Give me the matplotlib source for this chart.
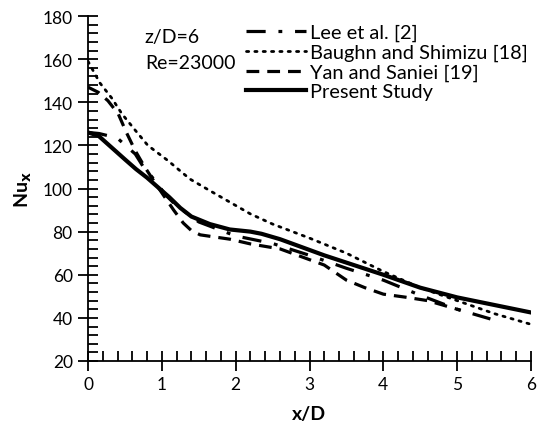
import matplotlib
matplotlib.use("Agg")
import matplotlib.pyplot as plt
from matplotlib.ticker import MultipleLocator

# values
lee_x = [0.0, 0.15, 0.27, 0.41, 0.54, 0.64, 0.75, 0.9, 1.05, 1.2, 1.5, 2.0, 2.5, 3.0, 3.5, 4.0, 4.5, 5.0, 5.45]
lee_y = [126, 125.5, 124.5, 123, 119, 116, 110, 104, 97, 92, 84.5, 78, 74.5, 69, 63, 57.5, 50.5, 44, 39.5]

baughn_x = [0.0, 0.16, 0.32, 0.46, 0.64, 0.81, 1.08, 1.38, 1.65, 1.92, 2.2, 2.5, 3.0, 3.5, 4.0, 4.5, 5.0, 5.5, 6.0]
baughn_y = [159, 149, 142, 134.6, 127, 120, 113, 104.4, 99, 93.7, 88.2, 83.5, 77, 70, 61.5, 54, 48, 42, 37]

yan_x = [0.0, 0.14, 0.27, 0.41, 0.52, 0.64, 0.75, 0.9, 1.02, 1.16, 1.29, 1.4, 1.52, 1.92, 2.2, 2.6, 3.0, 3.2, 3.5, 3.75, 4.0, 4.3, 4.6, 4.8, 5.05]
yan_y = [147, 144.6, 140.7, 134.6, 126, 117.5, 111, 103, 97, 90, 84, 80.5, 78.5, 76.5, 74.3, 72, 67, 64.5, 57.5, 54, 51, 49.6, 48, 46, 43.5]

present_x = [0.0, 0.14, 0.32, 0.5, 0.65, 0.8, 0.95, 1.1, 1.25, 1.4, 1.65, 1.92, 2.2, 2.35, 2.6, 3.0, 3.2, 3.6, 4.0, 4.5, 5.0, 5.5, 6.0]
present_y = [126, 124.5, 119, 113.5, 109, 105, 100.5, 96, 91, 87, 83.5, 81, 80, 79, 76.5, 71.5, 69, 64.5, 60, 54, 49.5, 46, 42.5]

plt.rcParams['font.family'] = ['Lato', 'DejaVu Sans']

fig = plt.figure(figsize=(5.39, 4.27), dpi=100)
ax = fig.add_axes([88 / 539, 65 / 427, 443 / 539, 345 / 427])

ax.plot(lee_x, lee_y, color='black', lw=2.3, dashes=(6, 4, 1.2, 4), label='Lee et al. [2]')
ax.plot(baughn_x, baughn_y, color='black', lw=2.0, dashes=(0.8, 2.2), dash_capstyle='round',
        label='Baughn and Shimizu [18]')
ax.plot(yan_x, yan_y, color='black', lw=2.3, dashes=(4, 2.5), label='Yan and Saniei [19]')
ax.plot(present_x, present_y, color='black', lw=3.0, label='Present Study')

ax.set_xlim(0, 6)
ax.set_ylim(20, 180)
ax.xaxis.set_major_locator(MultipleLocator(1))
ax.xaxis.set_minor_locator(MultipleLocator(0.2))
ax.yaxis.set_major_locator(MultipleLocator(20))
ax.yaxis.set_minor_locator(MultipleLocator(4))
ax.tick_params(which='major', direction='inout', length=14, width=1.3, labelsize=12.5, pad=4)
ax.tick_params(which='minor', direction='in', length=7, width=1.3)
ax.spines['top'].set_visible(False)
ax.spines['right'].set_visible(False)
ax.spines['left'].set_linewidth(1.3)
ax.spines['bottom'].set_linewidth(1.3)

ax.set_xlabel('x/D', fontsize=14, fontweight='bold', labelpad=9)
ax.set_ylabel('Nu$_\\mathbf{x}$', fontsize=14, fontweight='bold', labelpad=6)

ax.text(0.77, 170.5, 'z/D=6', fontsize=14, va='center')
ax.text(0.77, 158.5, 'Re=23000', fontsize=14, va='center')

ax.legend(loc='upper right', bbox_to_anchor=(1.01, 1.0), frameon=False, fontsize=14.4,
          handlelength=3.0, handletextpad=0.2, labelspacing=0.12, borderaxespad=0)

fig.savefig('out.png', dpi=100)
